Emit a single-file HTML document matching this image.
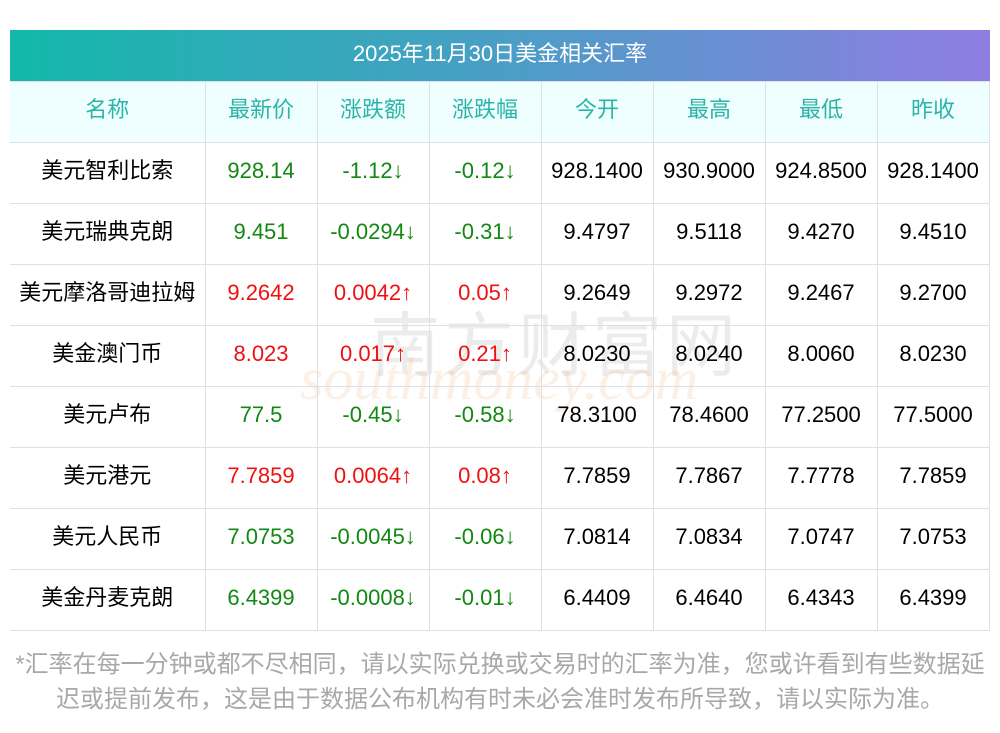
<!DOCTYPE html>
<html><head><meta charset="utf-8"><style>
body{margin:0;width:1000px;height:733px;background:#fff;font-family:"Liberation Sans","Noto Sans CJK SC",sans-serif;position:relative;overflow:hidden}
.title{position:absolute;left:10px;top:30px;width:980px;height:51px;background:linear-gradient(90deg,#13b8aa,#4a9ec6 50%,#8f7de2);color:#fff;font-size:22px;line-height:48px;text-align:center}
table{position:absolute;left:10px;top:81px;border-collapse:collapse;table-layout:fixed;width:979px}
td,th{border:1px solid #dde0ea;text-align:center;font-size:22px;height:60px;padding:0 0 5px 0;box-sizing:border-box;font-weight:normal;white-space:nowrap;line-height:22px}
tr{height:61px}
th{background:#effefe;color:#2ab5a8}
tr td:first-child,tr th:first-child{border-left:none}
.g{color:#118811}.r{color:#ee1111}
.note{position:absolute;left:0;width:1000px;text-align:center;color:#a8a8a8;font-size:24px;line-height:30px}
.wm{position:absolute;color:rgba(240,170,110,0.18);font-family:"Liberation Serif",serif}
</style></head><body>
<div class="title">2025年11月30日美金相关汇率</div>
<div class="wm" style="left:370px;top:290px;font-size:70px;color:rgba(200,200,200,0.35);letter-spacing:4px">南方财富网</div>
<div class="wm" style="left:300px;top:345px;font-size:60px;font-style:italic">southmoney.com</div>
<table>
<colgroup><col style="width:195px"><col style="width:112px"><col style="width:112px"><col style="width:112px"><col style="width:112px"><col style="width:112px"><col style="width:112px"><col style="width:112px"></colgroup>
<tr><th>名称</th><th>最新价</th><th>涨跌额</th><th>涨跌幅</th><th>今开</th><th>最高</th><th>最低</th><th>昨收</th></tr>
<tr><td>美元智利比索</td><td class="g">928.14</td><td class="g">-1.12↓</td><td class="g">-0.12↓</td><td>928.1400</td><td>930.9000</td><td>924.8500</td><td>928.1400</td></tr>
<tr><td>美元瑞典克朗</td><td class="g">9.451</td><td class="g">-0.0294↓</td><td class="g">-0.31↓</td><td>9.4797</td><td>9.5118</td><td>9.4270</td><td>9.4510</td></tr>
<tr><td>美元摩洛哥迪拉姆</td><td class="r">9.2642</td><td class="r">0.0042↑</td><td class="r">0.05↑</td><td>9.2649</td><td>9.2972</td><td>9.2467</td><td>9.2700</td></tr>
<tr><td>美金澳门币</td><td class="r">8.023</td><td class="r">0.017↑</td><td class="r">0.21↑</td><td>8.0230</td><td>8.0240</td><td>8.0060</td><td>8.0230</td></tr>
<tr><td>美元卢布</td><td class="g">77.5</td><td class="g">-0.45↓</td><td class="g">-0.58↓</td><td>78.3100</td><td>78.4600</td><td>77.2500</td><td>77.5000</td></tr>
<tr><td>美元港元</td><td class="r">7.7859</td><td class="r">0.0064↑</td><td class="r">0.08↑</td><td>7.7859</td><td>7.7867</td><td>7.7778</td><td>7.7859</td></tr>
<tr><td>美元人民币</td><td class="g">7.0753</td><td class="g">-0.0045↓</td><td class="g">-0.06↓</td><td>7.0814</td><td>7.0834</td><td>7.0747</td><td>7.0753</td></tr>
<tr><td>美金丹麦克朗</td><td class="g">6.4399</td><td class="g">-0.0008↓</td><td class="g">-0.01↓</td><td>6.4409</td><td>6.4640</td><td>6.4343</td><td>6.4399</td></tr>
</table>
<div class="note" style="top:650px">*汇率在每一分钟或都不尽相同，请以实际兑换或交易时的汇率为准，您或许看到有些数据延</div>
<div class="note" style="top:685px">迟或提前发布，这是由于数据公布机构有时未必会准时发布所导致，请以实际为准。</div>
</body></html>
